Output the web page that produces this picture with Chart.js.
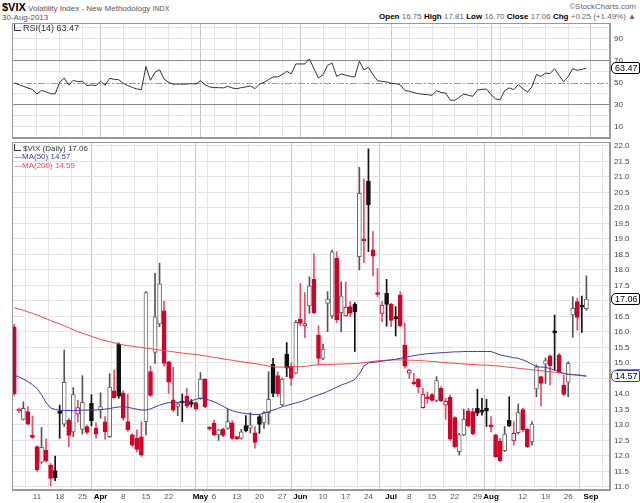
<!DOCTYPE html>
<html><head><meta charset="utf-8">
<script src="https://cdn.jsdelivr.net/npm/chart.js@4.4.1/dist/chart.umd.min.js"></script>
<style>
html,body{margin:0;padding:0;background:#fff;width:640px;height:503px;overflow:hidden;font-family:"Liberation Sans",Arial,sans-serif}
.t{position:absolute;white-space:nowrap;line-height:1}
canvas{position:absolute;left:0}
.tag{position:absolute;left:611px;font-size:9px;line-height:10px;padding:0 1px 0 3px;background:#fff;border:1px solid #000;border-radius:5px 2px 2px 5px;color:#000}
.ico{display:inline-block;width:6px;height:6px;border-left:1px solid #333;border-bottom:1px solid #333;margin-right:2px;vertical-align:0}
</style></head><body>
<div class="t" style="left:2px;top:2px;font-size:8px;color:#555"><b style="font-size:11px;color:#000">$VIX</b> Volatility Index - New Methodology <span style="font-size:7px">INDX</span></div>
<div class="t" style="left:2px;top:14px;font-size:8px;color:#555">30-Aug-2013</div>
<div class="t" style="right:4px;top:3px;font-size:8px;color:#666">©StockCharts.com</div>
<div class="t" style="right:4px;top:13px;font-size:8px;color:#666"><b style="color:#000">Open</b> 16.75 <b style="color:#000">High</b> 17.81 <b style="color:#000">Low</b> 16.70 <b style="color:#000">Close</b> 17.06 <b style="color:#000">Chg</b> +0.25 (+1.49%) ▲</div>
<canvas id="rsi" width="640" height="140" style="top:0"></canvas>
<canvas id="main" width="640" height="363" style="top:140px"></canvas>
<div class="t" style="left:14px;top:24px;font-size:9px;color:#333"><span class="ico"></span>RSI(14) 63.47</div>
<div class="t" style="left:14px;top:144px;font-size:8px;color:#333"><span class="ico"></span>$VIX (Daily) 17.06</div>
<div class="t" style="left:14px;top:153px;font-size:8px;color:#3b3ba8">—MA(50) 14.57</div>
<div class="t" style="left:14px;top:162px;font-size:8px;color:#f04848">—MA(200) 14.59</div>
<div id="tagMa200" class="tag" style="border-color:#f04848;left:613px">14.59</div>
<div id="tagMa50" class="tag" style="border-color:#3b3ba8">14.57</div>
<div id="tagClose" class="tag">17.06</div>
<div id="tagRsi" class="tag">63.47</div>
<script>
// ---- data (index = trading day, 0 = 4-Mar-2013) ----
const OPEN=[16.17,13.45,13.18,13.43,12.66,12.30,11.80,12.19,11.71,11.53,13.45,13.03,13.16,12.78,13.35,12.86,12.95,13.70,12.89,13.48,13.10,12.62,14.10,15.60,14.04,13.11,12.68,12.57,12.62,13.11,14.72,15.34,16.26,16.68,15.04,13.81,13.60,13.76,13.93,13.74,13.72,13.86,14.48,12.92,13.05,12.68,12.86,12.89,13.07,12.60,12.57,12.98,12.90,12.75,13.27,13.07,13.40,14.96,14.59,13.65,15.29,14.90,14.67,16.41,16.20,16.84,17.70,15.90,15.15,16.92,16.52,18.38,16.62,16.52,16.82,16.90,18.43,18.99,20.87,18.65,17.23,16.60,17.25,16.89,16.48,17.19,15.58,14.67,14.37,14.47,13.56,13.89,13.98,13.79,14.18,13.64,13.89,13.24,12.14,12.68,13.46,13.43,13.54,13.45,13.54,12.96,12.68,12.48,12.17,13.16,12.49,12.75,13.50,12.86,12.46,14.16,14.56,14.96,15.23,16.01,15.26,14.29,14.38,16.55,16.98,16.82,16.75];
const HIGH=[16.25,13.55,13.75,13.59,13.29,12.32,12.92,12.55,11.76,12.00,13.64,15.42,13.21,14.21,13.80,14.59,13.00,13.98,13.07,14.04,13.27,14.65,14.77,15.65,14.10,14.00,12.72,12.84,13.11,17.30,14.90,17.89,18.22,17.00,15.06,14.86,13.73,14.00,14.18,13.82,13.75,14.69,14.50,12.95,13.16,12.86,12.90,13.52,13.14,12.62,12.86,13.30,13.40,12.95,13.32,13.43,14.72,15.15,14.72,14.51,15.66,15.01,16.37,17.57,17.27,17.78,18.52,16.20,15.61,17.30,18.64,18.59,17.62,17.62,16.98,16.95,21.31,20.93,21.91,19.24,18.05,16.98,17.70,16.93,16.82,17.30,16.28,14.80,14.67,14.50,14.18,14.07,14.02,14.56,14.24,13.86,13.97,13.27,12.73,13.51,13.54,13.54,14.15,13.86,13.83,13.27,12.70,12.57,12.95,13.91,13.11,13.68,13.54,12.89,13.11,14.94,14.58,15.16,15.26,16.55,15.31,14.61,15.04,17.14,17.09,17.16,17.81];
const LOW=[13.95,13.40,13.16,13.00,12.57,11.50,11.76,11.80,11.03,11.20,12.57,12.95,12.30,12.62,13.10,12.71,12.71,12.97,12.57,13.22,12.54,12.60,13.86,13.86,13.15,12.80,12.30,12.14,11.98,12.68,13.90,14.99,16.17,14.90,14.02,13.43,13.30,13.11,13.55,13.58,13.48,13.83,13.56,12.83,12.65,12.50,12.62,12.86,12.54,12.52,12.54,12.78,12.74,12.25,12.73,12.89,13.02,13.91,13.91,13.62,14.56,14.27,14.65,16.20,15.82,16.60,16.58,14.94,15.10,16.01,16.44,16.30,16.01,16.50,16.50,15.37,18.00,18.24,18.59,17.81,17.14,16.33,16.19,16.17,15.87,16.17,14.83,14.50,14.29,14.04,13.54,13.70,13.75,13.75,13.75,13.18,12.50,12.25,12.03,12.65,12.93,12.68,13.30,13.32,12.95,12.78,11.95,11.82,12.14,12.95,12.35,12.71,12.78,12.27,12.35,13.91,13.61,14.34,14.29,14.77,14.67,13.95,13.91,15.83,16.06,15.99,16.70];
const CLOSE=[14.00,13.50,13.54,13.03,12.60,11.55,12.28,11.84,11.28,11.30,13.37,14.38,12.66,13.98,13.56,13.73,12.76,13.14,12.70,13.59,12.78,14.22,13.88,13.93,13.22,12.84,12.35,12.21,12.03,17.27,13.95,16.49,17.55,14.99,14.38,13.48,13.68,13.71,13.61,13.66,13.52,14.48,13.59,12.87,12.68,12.84,12.66,13.11,12.57,12.56,12.78,12.81,13.00,12.44,13.02,13.40,13.83,14.02,14.00,14.48,14.83,14.50,16.31,16.28,16.27,17.49,16.62,15.15,15.45,17.06,18.59,16.39,17.16,16.80,16.60,16.65,20.47,18.94,20.10,18.45,17.21,16.87,16.89,16.37,16.43,16.20,14.90,14.77,14.33,14.22,14.00,13.84,13.79,14.43,13.78,13.76,12.54,12.30,12.68,13.18,12.97,12.71,13.38,13.41,13.45,12.94,11.98,11.84,12.71,12.97,12.73,13.40,12.84,12.30,13.03,14.88,14.34,15.08,14.91,15.97,14.72,13.99,14.99,16.76,16.47,16.80,17.06];
const MA50=[14.61,14.55,14.48,14.40,14.30,14.18,13.98,13.72,13.55,13.50,13.48,13.47,13.47,13.47,13.47,13.48,13.48,13.48,13.48,13.50,13.51,13.53,13.56,13.58,13.59,13.57,13.54,13.51,13.48,13.48,13.52,13.58,13.64,13.69,13.72,13.73,13.73,13.74,13.75,13.78,13.83,13.86,13.85,13.80,13.75,13.68,13.60,13.52,13.46,13.42,13.39,13.37,13.35,13.34,13.34,13.38,13.43,13.48,13.53,13.59,13.63,13.67,13.71,13.75,13.80,13.86,13.92,13.97,14.02,14.08,14.15,14.22,14.29,14.34,14.40,14.47,14.65,14.90,15.00,15.02,15.04,15.06,15.08,15.10,15.12,15.15,15.18,15.21,15.24,15.26,15.28,15.30,15.31,15.32,15.33,15.34,15.35,15.36,15.36,15.37,15.37,15.37,15.37,15.37,15.37,15.37,15.32,15.26,15.23,15.20,15.17,15.15,15.10,15.04,14.96,14.88,14.87,14.86,14.82,14.77,14.72,14.67,14.63,14.62,14.61,14.59,14.57];
const MA200=[16.78,16.74,16.70,16.65,16.60,16.55,16.49,16.43,16.37,16.31,16.26,16.20,16.14,16.07,16.01,15.96,15.91,15.86,15.81,15.76,15.72,15.69,15.65,15.62,15.58,15.56,15.54,15.52,15.50,15.48,15.46,15.44,15.42,15.40,15.38,15.36,15.34,15.32,15.30,15.29,15.27,15.25,15.23,15.21,15.18,15.16,15.13,15.11,15.09,15.06,15.04,15.02,15.00,14.98,14.95,14.93,14.90,14.88,14.87,14.87,14.87,14.87,14.88,14.88,14.89,14.91,14.93,14.94,14.95,14.95,14.96,14.96,14.97,14.97,14.98,14.98,14.99,15.01,15.03,15.05,15.07,15.08,15.09,15.10,15.10,15.10,15.10,15.09,15.09,15.08,15.07,15.06,15.05,15.04,15.02,15.01,15.00,14.99,14.98,14.97,14.96,14.95,14.94,14.93,14.93,14.92,14.91,14.90,14.88,14.86,14.85,14.83,14.81,14.80,14.78,14.77,14.75,14.73,14.72,14.70,14.69,14.66,14.64,14.63,14.62,14.60,14.59];
const RSI=[50,48.5,47,45.5,44,40,43.3,42,40.3,40,50.6,54.5,48,52.4,51.2,51.5,47.6,48.2,47.6,51.5,48,54.2,53.3,53,49.7,47.6,46,44.5,44,65,52.4,59.7,62,53.6,50.6,48.8,49,49,49,49.4,49,52,48.5,46.4,45.8,45.8,45.5,47,45.5,44.8,45.8,46.4,47.3,44.8,49,50.6,53,55.5,55.5,57.6,60.6,58.2,67.3,67.3,67.3,71.8,63,54.5,57.6,66,68.2,56,58.2,57,56,55.5,69.7,62,64.2,57.6,52,51.5,51,49.7,49.4,48.5,43.3,42.4,41.2,40.3,39.7,39.4,38.8,43,41.2,40.9,34.5,34.2,37,40,38.8,37.9,43.6,44.2,44.5,39.4,35.5,34.8,43,45.5,44,48.5,44.8,41.8,46.4,57.6,56,59,58.5,63,56.7,51,56,63,61.5,62.4,63.47];
const TICK_IDX=[5,10,15,19,24,29,34,39,41,44,49,54,59,63,68,73,78,83,87,92,97,102,105,107,112,117,122,127];
const TICK_LABELS=['11','18','25','Apr','8','15','22','','May','6','13','20','27','Jun','10','17','24','Jul','8','15','22','29','Aug','','12','19','26','Sep'];
const MONTH_LABELS=['Apr','May','Jun','Jul','Aug','Sep'];
const PRICE_TICKS=[11,11.5,12,12.5,13,13.5,14,14.5,15,15.5,16,16.5,17,17.5,18,18.5,19,19.5,20,20.5,21,21.5,22];
const RSI_TICKS=[0,10,20,30,40,50,60,70,80,90,100];
const RSI_LABELED=[10,30,50,70,90];

// ---- styling ----
Chart.defaults.font.family='"Liberation Sans", Arial, sans-serif';
const RED='#d0022a', BLACK='#111', HOLLOW='#666', WICKRED='#e0506a';
const X_MIN=-0.5, X_MAX=131.2;
const isMonth=v=>{const k=TICK_IDX.indexOf(v);return k>=0&&MONTH_LABELS.includes(TICK_LABELS[k]);};
const bodyFill=[],bodyBorder=[],wickCol=[];
CLOSE.forEach((c,i)=>{
  const up=c>=OPEN[i]; const gain=i>0&&c>=CLOSE[i-1];
  const col=gain?BLACK:RED;
  bodyFill.push(up?'#fff':col);
  bodyBorder.push(up?(gain?HOLLOW:RED):col);
  wickCol.push(up?(gain?'#555':WICKRED):(gain?BLACK:WICKRED));
});
function noPad(s){s.paddingTop=0;s.paddingBottom=0;s.paddingLeft=0;s.paddingRight=0;}
function xAxis(showTicks){
  return {type:'linear',min:X_MIN,max:X_MAX,offset:false,
    afterBuildTicks:s=>{s.ticks=TICK_IDX.map(v=>({value:v}));},
    afterFit:s=>{s.height=showTicks?13:0;noPad(s);},
    ticks:{display:showTicks,autoSkip:false,maxRotation:0,padding:2,
      callback:(v,i)=>TICK_LABELS[i],
      color:c=>(c.tick&&isMonth(c.tick.value))?'#000':'#555',
      font:c=>({size:8,weight:(c.tick&&isMonth(c.tick.value))?'bold':'normal'})},
    grid:{drawTicks:false,color:c=>(c.tick&&isMonth(c.tick.value))?'#c4c4c4':'#e4e4e4',lineWidth:1},
    border:{display:true,color:'#999'}};
}
const framePlugin={id:'frame',afterDraw(ch){const a=ch.chartArea,x=ch.ctx;x.save();x.strokeStyle='#999';x.lineWidth=1;x.strokeRect(Math.round(a.left)+0.5,Math.round(a.top)+0.5,Math.round(a.right-a.left)-1,Math.round(a.bottom-a.top)-1);x.restore();}};
function placeTag(id,canvasTop,px){const el=document.getElementById(id);el.style.top=(canvasTop+px-6)+'px';}

// ---- RSI panel ----
new Chart(document.getElementById('rsi'),{
  type:'line',
  data:{datasets:[{data:RSI.map((v,i)=>({x:i,y:v})),borderColor:'#333',borderWidth:1,pointRadius:0,tension:0}]},
  options:{responsive:false,animation:false,events:[],
    layout:{padding:{left:12,right:0,top:23,bottom:2}},
    plugins:{legend:{display:false},tooltip:{enabled:false}},
    scales:{x:xAxis(false),
      y:{position:'right',min:0,max:104.5,
        afterBuildTicks:s=>{s.ticks=RSI_TICKS.map(v=>({value:v}));},
        afterFit:s=>{s.width=30;noPad(s);},
        ticks:{autoSkip:false,padding:4,color:'#444',font:{size:8},callback:v=>RSI_LABELED.includes(v)?String(v):''},
        grid:{drawTicks:false,color:c=>(c.tick&&(c.tick.value===70||c.tick.value===30))?'#888':(c.tick&&c.tick.value===50?'rgba(0,0,0,0)':'#e4e4e4')},
        border:{display:true,color:'#999'}}}},
  plugins:[framePlugin,{id:'mid',beforeDatasetsDraw(ch){const s=ch.scales.y,a=ch.chartArea,x=ch.ctx;const y=Math.round(s.getPixelForValue(50))+0.5;x.save();x.strokeStyle='#999';x.lineWidth=1;x.setLineDash([7,2,2,2]);x.beginPath();x.moveTo(a.left,y);x.lineTo(a.right,y);x.stroke();x.restore();},
    afterRender(ch){placeTag('tagRsi',0,ch.scales.y.getPixelForValue(RSI[RSI.length-1]));}}]
});

// ---- price panel ----
new Chart(document.getElementById('main'),{
  type:'bar',
  data:{datasets:[
    {type:'line',data:MA50.map((v,i)=>({x:i,y:v})),borderColor:'#3b3ba8',borderWidth:1,pointRadius:0,tension:0,order:0},
    {type:'line',data:MA200.map((v,i)=>({x:i,y:v})),borderColor:'#f04848',borderWidth:1,pointRadius:0,tension:0,order:1},
    {type:'bar',data:OPEN.map((o,i)=>({x:i,y:[OPEN[i],CLOSE[i]]})),backgroundColor:bodyFill,borderColor:bodyBorder,borderWidth:1,borderSkipped:false,barThickness:4,minBarLength:2,grouped:false,order:2},
    {type:'bar',data:OPEN.map((o,i)=>({x:i,y:[LOW[i],HIGH[i]]})),backgroundColor:wickCol,borderWidth:0,barThickness:1,grouped:false,order:3}
  ]},
  options:{responsive:false,animation:false,events:[],
    layout:{padding:{left:12,right:0,top:2,bottom:0}},
    plugins:{legend:{display:false},tooltip:{enabled:false}},
    scales:{x:xAxis(true),
      y:{position:'right',min:10.903,max:22.129,
        afterBuildTicks:s=>{s.ticks=PRICE_TICKS.map(v=>({value:v}));},
        afterFit:s=>{s.width=30;noPad(s);},
        ticks:{autoSkip:false,padding:4,color:'#444',font:{size:8},callback:v=>v.toFixed(1)},
        grid:{drawTicks:false,color:'#e4e4e4'},
        border:{display:true,color:'#999'}}}},
  plugins:[framePlugin,{id:'tags',afterRender(ch){const s=ch.scales.y;
    placeTag('tagClose',140,s.getPixelForValue(CLOSE[CLOSE.length-1]));
    placeTag('tagMa50',140,s.getPixelForValue(MA50[MA50.length-1]));
    placeTag('tagMa200',140,s.getPixelForValue(MA200[MA200.length-1])-1);}}]
});
</script>
</body></html>
